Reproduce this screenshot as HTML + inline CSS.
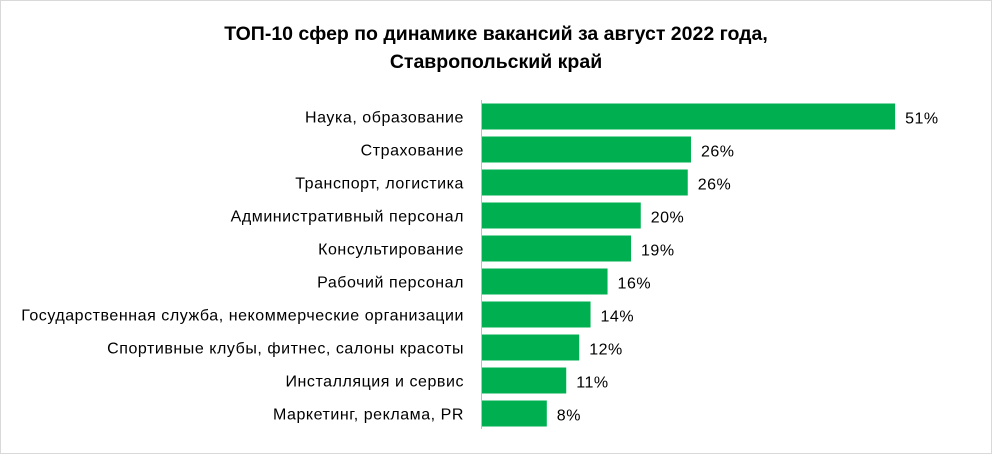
<!DOCTYPE html>
<html><head><meta charset="utf-8"><style>
body{margin:0;background:#fff;}
#wrap{position:relative;width:992px;height:454px;overflow:hidden;}
svg text{font-family:"Liberation Sans",sans-serif;}
</style></head><body>
<div id="wrap">
<svg id="chart" width="992" height="454">
<rect x="0.5" y="0.5" width="991" height="453" fill="#fff" stroke="#d9d9d9"/>
<text x="496" y="40" text-anchor="middle" font-size="19.5" font-weight="bold" fill="#000">ТОП-10 сфер по динамике вакансий за август 2022 года,</text>
<text x="496" y="68" text-anchor="middle" font-size="19.5" font-weight="bold" fill="#000">Ставропольский край</text>
<line x1="481.5" y1="100" x2="481.5" y2="429" stroke="#bfbfbf"/>
<g id="bars"></g>
</svg>
</div>
<script>
const categories=["Наука, образование","Страхование","Транспорт, логистика","Административный персонал","Консультирование","Рабочий персонал","Государственная служба, некоммерческие организации","Спортивные клубы, фитнес, салоны красоты","Инсталляция и сервис","Маркетинг, реклама, PR"];
const values=[51.0,25.8,25.4,19.6,18.4,15.5,13.4,12.0,10.4,8.0];
const valueLabels=["51%","26%","26%","20%","19%","16%","14%","12%","11%","8%"];
const x0=482, pxPer=8.1, y0=100, step=33, barH=26;
function xScale(v){return v*pxPer;}
function yScale(i){return y0+i*step+(step-barH)/2;}
const g=document.getElementById('bars');
const NS="http://www.w3.org/2000/svg";
categories.forEach((c,i)=>{
  const y=yScale(i), w=xScale(values[i]);
  const r=document.createElementNS(NS,'rect');
  r.setAttribute('x',x0);r.setAttribute('y',y);r.setAttribute('width',w);r.setAttribute('height',barH);r.setAttribute('fill','#00b050');
  
  
  g.appendChild(r);
  const t=document.createElementNS(NS,'text');
  t.setAttribute('x',x0-18);t.setAttribute('y',y+barH/2+6);t.setAttribute('text-anchor','end');t.setAttribute('font-size','16');t.setAttribute('letter-spacing','0.55');t.setAttribute('fill','#000');
  t.textContent=c;
  
  
  g.appendChild(t);
  const v=document.createElementNS(NS,'text');
  v.setAttribute('x',x0+w+10);v.setAttribute('y',y+barH/2+7);v.setAttribute('font-size','16');v.setAttribute('letter-spacing','0.5');v.setAttribute('fill','#000');
  v.textContent=valueLabels[i];
  
  
  g.appendChild(v);
});
</script>
</body></html>
